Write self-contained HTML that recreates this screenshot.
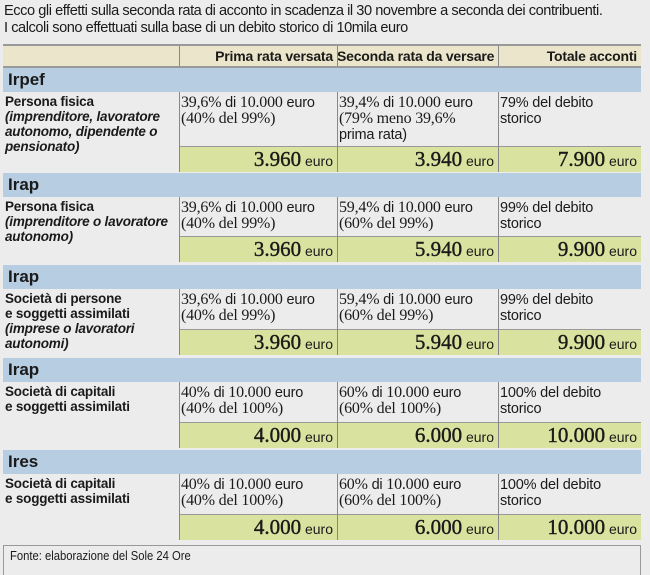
<!DOCTYPE html>
<html><head><meta charset="utf-8">
<style>
*{margin:0;padding:0;box-sizing:border-box}
body{width:650px;height:568px;background:#ececec;position:relative;overflow:hidden;font-family:"Liberation Sans",sans-serif;color:#1a1a1a}
.a{position:absolute}
.intro{left:4px;top:3px;font-size:14.6px;line-height:17px;letter-spacing:-0.45px;white-space:nowrap}
.hdr{background:#ebe6cb;border-top:2px solid #999;border-bottom:2px solid #999}
.hc{font-weight:bold;font-size:14px;text-align:right;padding-right:4px;line-height:20px;white-space:nowrap;letter-spacing:-0.2px}
.band{left:3px;width:638px;height:24px;background:#b7cde1;font-weight:bold;font-size:17px;line-height:24px;padding-left:5px}
.lab{left:5px;font-size:13.5px;line-height:15px;font-weight:bold;letter-spacing:-0.2px}
.lab i{font-style:italic}
.cell{font-size:14.5px;line-height:16px;padding:3px 0 0 2px;letter-spacing:-0.2px;white-space:nowrap}
.cell .n{font-family:"Liberation Serif",serif;font-size:16px}
.grn{background:#d9e29e;text-align:right;padding-right:4px;font-size:14px;line-height:25px;border-top:1px solid #999;white-space:nowrap}
.grn b{font-family:"Liberation Serif",serif;font-size:21px;font-weight:normal;-webkit-text-stroke:0.4px #1a1a1a}
.vl{width:1px;background:#888}
</style></head>
<body>
<div class="a intro">Ecco gli effetti sulla seconda rata di acconto in scadenza il 30 novembre a seconda dei contribuenti.<br>I calcoli sono effettuati sulla base di un debito storico di 10mila euro</div>

<div class="a hdr" style="left:3px;top:44px;width:638px;height:24px"></div>
<div class="a hc" style="left:179px;top:46px;width:158px">Prima rata versata</div>
<div class="a hc" style="left:337px;top:46px;width:161px">Seconda rata da versare</div>
<div class="a hc" style="left:498px;top:46px;width:143px">Totale acconti</div>
<div class="a vl" style="left:179px;top:46px;height:20px"></div>
<div class="a vl" style="left:337px;top:46px;height:20px"></div>
<div class="a vl" style="left:498px;top:46px;height:20px"></div>

<div id="root"></div>

<div class="a" style="left:3px;top:545px;width:638px;height:30px;border-top:1px solid #999;border-left:1px solid #999;border-right:1px solid #999"></div>
<div class="a" style="left:10px;top:549px;font-size:12.5px;transform:scaleX(0.9);transform-origin:left top;white-space:nowrap">Fonte: elaborazione del Sole 24 Ore</div>

<script>
const sectionTitles=["Irpef","Irap","Irap","Irap","Ires"];
const sectionLabels=[
 "Persona fisica<br><i>(imprenditore, lavoratore autonomo, dipendente o pensionato)</i>",
 "Persona fisica<br><i>(imprenditore o lavoratore autonomo)</i>",
 "Società di persone<br>e soggetti assimilati<br><i>(imprese o lavoratori autonomi)</i>",
 "Società di capitali<br>e soggetti assimilati",
 "Società di capitali<br>e soggetti assimilati"];
const primaText=[
 '<span class="n">39,6%</span> di <span class="n">10.000</span> euro<br><span class="n">(40% del 99%)</span>',
 '<span class="n">39,6%</span> di <span class="n">10.000</span> euro<br><span class="n">(40% del 99%)</span>',
 '<span class="n">39,6%</span> di <span class="n">10.000</span> euro<br><span class="n">(40% del 99%)</span>',
 '<span class="n">40%</span> di <span class="n">10.000</span> euro<br><span class="n">(40% del 100%)</span>',
 '<span class="n">40%</span> di <span class="n">10.000</span> euro<br><span class="n">(40% del 100%)</span>'];
const secondaText=[
 '<span class="n">39,4%</span> di <span class="n">10.000</span> euro<br><span class="n">(79% meno 39,6%</span><br>prima rata)',
 '<span class="n">59,4%</span> di <span class="n">10.000</span> euro<br><span class="n">(60% del 99%)</span>',
 '<span class="n">59,4%</span> di <span class="n">10.000</span> euro<br><span class="n">(60% del 99%)</span>',
 '<span class="n">60%</span> di <span class="n">10.000</span> euro<br><span class="n">(60% del 100%)</span>',
 '<span class="n">60%</span> di <span class="n">10.000</span> euro<br><span class="n">(60% del 100%)</span>'];
const totaleText=["79% del debito<br>storico","99% del debito<br>storico","99% del debito<br>storico","100% del debito<br>storico","100% del debito<br>storico"];
const primaVal=["3.960","3.960","3.960","4.000","4.000"];
const secondaVal=["3.940","5.940","5.940","6.000","6.000"];
const totaleVal=["7.900","9.900","9.900","10.000","10.000"];
const bandTop=[68,173,265,358,450];
const textH=[54,39,40,40,40];

const root=document.getElementById('root');
const cols=[[179,158],[337,161],[498,143]];
function mk(cls,st,html){const d=document.createElement('div');d.className='a '+cls;d.style.cssText=st;d.innerHTML=html;root.appendChild(d);return d;}
for(let i=0;i<sectionTitles.length;i++){
 const t=bandTop[i];
 let d=mk('band','top:'+t+'px',sectionTitles[i]);
 
 
 const ty=t+24, gy=ty+textH[i];
 d=mk('lab','top:'+(ty+2)+'px;width:172px',sectionLabels[i]);
 
 
 const texts=[primaText[i],secondaText[i],totaleText[i]];
 const vals=[primaVal[i],secondaVal[i],totaleVal[i]];
 for(let c=0;c<3;c++){
  d=mk('cell','left:'+cols[c][0]+'px;top:'+ty+'px;width:'+cols[c][1]+'px;height:'+textH[i]+'px',texts[c]);
  
  
  d=mk('grn','left:'+cols[c][0]+'px;top:'+gy+'px;width:'+cols[c][1]+'px;height:26px','<b>'+vals[c]+'</b> euro');
  
  
  d=mk('vl','left:'+cols[c][0]+'px;top:'+ty+'px;height:'+(textH[i]+26)+'px','');
  
  
 }
}
</script>
</body></html>
